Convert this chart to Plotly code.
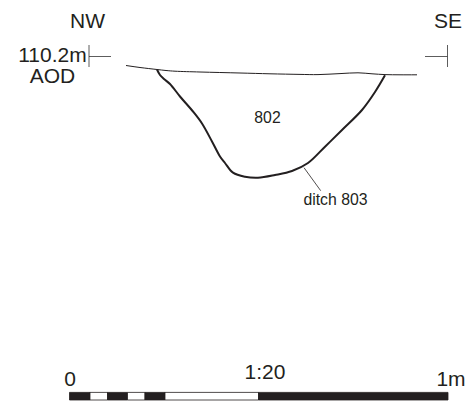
import plotly.graph_objects as go

ground_x = [126, 140, 157, 166, 175, 200, 240, 270, 300, 318, 340, 358, 372, 385, 400, 417]
ground_y = [65.5, 67.5, 69.5, 70.5, 71.2, 72, 73, 73.8, 74.4, 74.6, 73.6, 72.8, 73.8, 74.6, 74.8, 74.8]
ditch_x = [157, 160, 164, 170, 180, 193, 202, 212, 220, 225, 233, 245, 258, 275, 292, 308, 325, 342, 362, 375, 385]
ditch_y = [69.5, 75, 79, 84, 96.5, 111.5, 123.5, 141.5, 156.5, 163, 172.7, 176.7, 177.7, 175, 171, 163, 146.7, 130, 110, 92, 75.3]
leader_x = [304, 320.7]
leader_y = [167.7, 190.7]
nw_h_x, nw_h_y = [89, 111], [56.5, 56.5]
nw_v_x, nw_v_y = [89, 89], [45, 67]
se_h_x, se_h_y = [425, 447.5], [56.5, 56.5]
se_v_x, se_v_y = [447.5, 447.5], [45, 67]

scale_starts = [69.5, 90, 107.5, 127.5, 145, 165, 258.5]
scale_widths = [20.5, 17.5, 20, 17.5, 20, 93.5, 189.5]
scale_colors = ["#231f20", "#ffffff", "#231f20", "#ffffff", "#231f20", "#ffffff", "#231f20"]
scale_row = 396.2

labels = ["NW", "SE", "110.2m", "AOD", "802", "ditch 803", "0", "1:20", "1m"]
label_x = [87.5, 448, 52.5, 52.5, 267.5, 335.5, 70, 265, 451]
label_y = [23, 23, 57, 78, 119.5, 201.5, 381, 374, 381]
label_size = [21, 21, 21, 21, 15.8, 15.8, 21, 21, 21]

INK = "#231f20"
fig = go.Figure()
fig.add_trace(go.Bar(orientation="h", y=[scale_row] * len(scale_starts), x=scale_widths,
                     base=scale_starts, width=7.6,
                     marker=dict(color=scale_colors, line=dict(color=INK, width=0.8))))
for xs, ys, w, col in [
    (ground_x, ground_y, 1.0, INK),
    (ditch_x, ditch_y, 2.0, INK),
    (leader_x, leader_y, 0.8, INK),
    (nw_h_x, nw_h_y, 0.8, "#333333"),
    (nw_v_x, nw_v_y, 0.8, "#333333"),
    (se_h_x, se_h_y, 0.8, "#333333"),
    (se_v_x, se_v_y, 0.8, "#333333"),
]:
    fig.add_trace(go.Scatter(x=xs, y=ys, mode="lines",
                             line=dict(color=col, width=w, shape="spline", smoothing=1.0)))
fig.add_trace(go.Scatter(x=label_x, y=label_y, text=labels, mode="text",
                         textposition="middle center", cliponaxis=False,
                         textfont=dict(family="Liberation Sans", size=label_size, color=INK)))
fig.update_layout(
    width=465, height=405, margin=dict(l=0, r=0, t=0, b=0), showlegend=False,
    plot_bgcolor="white", paper_bgcolor="white", barmode="overlay",
    xaxis=dict(range=[0, 465], visible=False, fixedrange=True),
    yaxis=dict(range=[405, 0], visible=False, fixedrange=True),
)
fig.write_html("out.html", config={"displayModeBar": False},
               post_script="document.body.style.margin='0';document.body.style.overflow='hidden';")
